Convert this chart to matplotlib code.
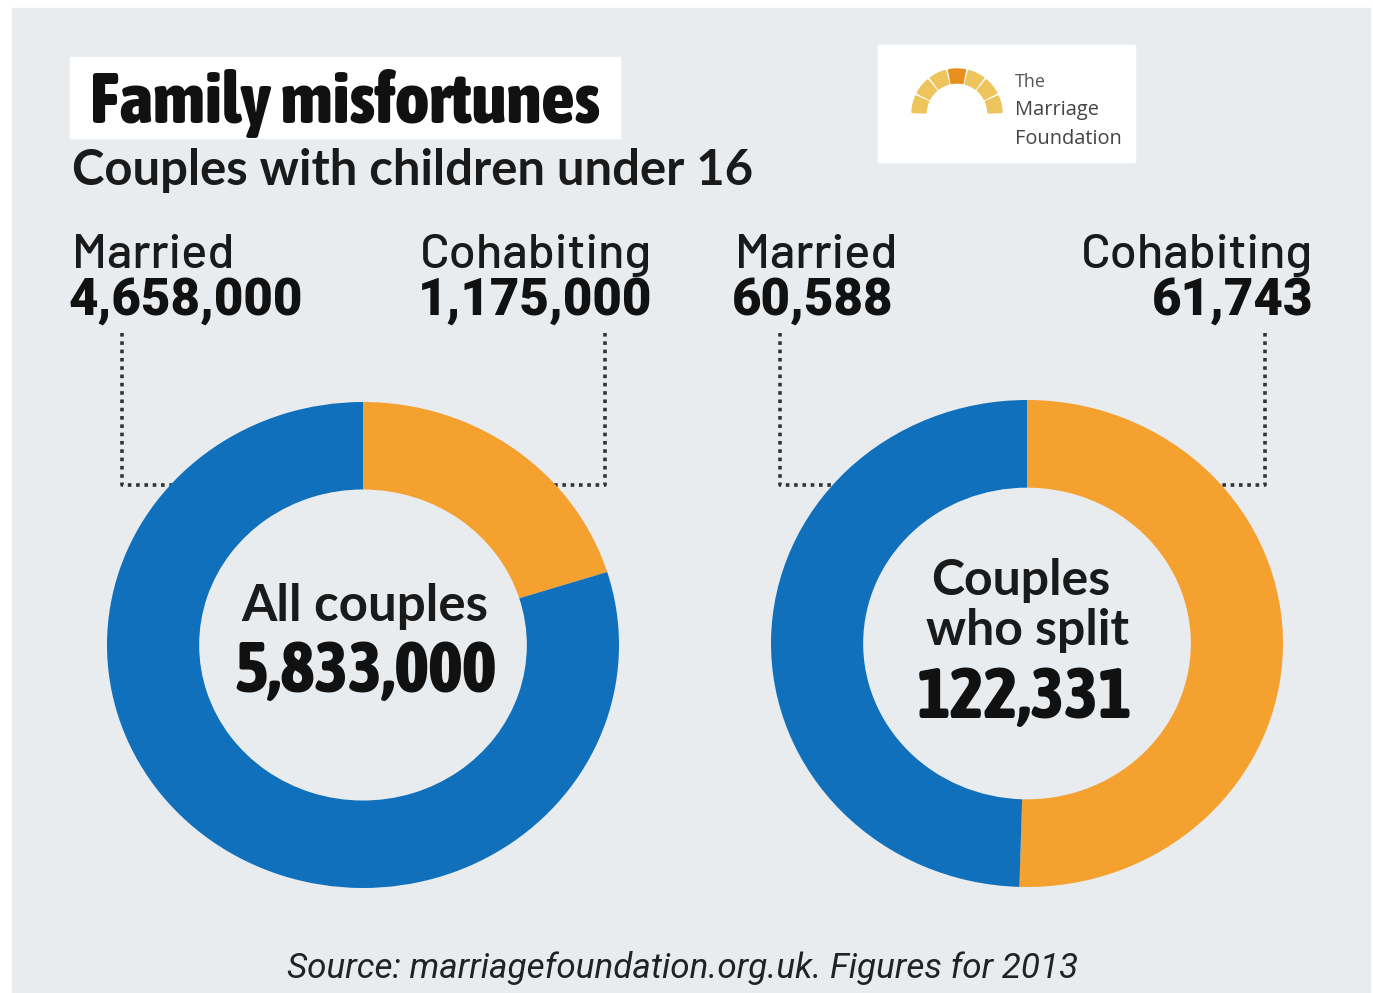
import matplotlib.pyplot as plt
from matplotlib import font_manager as fm
from matplotlib.patches import Rectangle, Wedge

# data
segments = ["Cohabiting", "Married"]
all_couples = [1175000, 4658000]
split_couples = [61743, 60588]
all_total = "5,833,000"
split_total = "122,331"
seg_colors = ["#f5a130", "#1170bb"]

W, H = 1373, 993
BG = "#e8ecef"

installed = {f.name for f in fm.fontManager.ttflist}


def fam(*names):
    return [n for n in names if n in installed] + ["DejaVu Sans"]


NARROW = fam("Asap Condensed", "Archivo Narrow")
LABEL = fam("Barlow", "Roboto")
NUM = fam("Roboto")
ROUND = fam("Lato")
ITAL = fam("Roboto")


def px(v):
    # pixel height -> points at dpi 100
    return v * 0.72


fig = plt.figure(figsize=(W / 100, H / 100), dpi=100, facecolor="white")
bg = fig.add_axes([0, 0, 1, 1])
bg.set_xlim(0, W)
bg.set_ylim(H, 0)
bg.axis("off")
bg.add_patch(Rectangle((12, 8), 1358, 990, color=BG, zorder=0))

# title block
bg.add_patch(Rectangle((70, 57), 550, 81, color="white", zorder=1))
bg.text(90, 123, "Family misfortunes", family=NARROW, weight=800,
        fontsize=px(72.5), color="#111111", zorder=2)
bg.text(72, 185, "Couples with children under 16", family=ROUND,
        weight="bold", fontsize=px(49), color="#1a1a1a")

# logo (y axis is flipped, so angles run the other way)
bg.add_patch(Rectangle((878, 45), 257, 117, color="white", zorder=1))
for k in range(7):
    a0 = 180 + k * (180 / 7) + 2
    a1 = a0 + 180 / 7 - 4
    bg.add_patch(Wedge((957, 114), 45, a0, a1, width=14,
                       color="#e8901e" if k == 3 else "#eec45c", zorder=2))
bg.text(1015, 87, "The", family=["Open Sans"], fontsize=px(18), color="#555555")
bg.text(1015, 115, "Marriage", family=["Open Sans"], fontsize=px(20), color="#444444")
bg.text(1015, 144, "Foundation", family=["Open Sans"], fontsize=px(20), color="#444444")

# donuts
boxes = [(107, 402, 512, 486), (771, 400, 512, 487)]
for (x0, y0, w, h), vals in zip(boxes, [all_couples, split_couples]):
    ax = fig.add_axes([x0 / W, 1 - (y0 + h) / H, w / W, h / H])
    ax.pie(vals, colors=seg_colors, startangle=90, counterclock=False,
           radius=1, wedgeprops=dict(width=0.36, linewidth=0))
    ax.set_aspect("auto")
    ax.set_xlim(-1, 1)
    ax.set_ylim(-1, 1)
    ax.axis("off")

# leader lines and labels
dot = dict(color="#333333", lw=2.6, linestyle=(0, (1, 1.3)), zorder=1)
centers = [363, 1027]
for cx, xl, xr in zip(centers, [122, 780], [605, 1265]):
    bg.plot([xl, xl, cx], [333, 485, 485], **dot)
    bg.plot([xr, xr, cx], [333, 485, 485], **dot)

label_sets = [
    (72, 652, "4,658,000", "1,175,000"),
    (735, 1313, "60,588", "61,743"),
]
for xl, xr, vm, vc in label_sets:
    bg.text(xl, 268, "Married", family=LABEL, weight=500, fontsize=px(49),
            color="#1a1a1a")
    bg.text(xl - 3, 315, vm, family=NUM, weight=900, fontsize=px(51),
            color="#111111")
    bg.text(xr, 268, "Cohabiting", family=LABEL, weight=500, fontsize=px(49),
            color="#1a1a1a", ha="right")
    bg.text(xr, 315, vc, family=NUM, weight=900, fontsize=px(51),
            color="#111111", ha="right")

# centre captions
bg.text(365, 621, "All couples", family=ROUND, weight="bold", fontsize=px(51),
        color="#1a1a1a", ha="center")
bg.text(365, 692, all_total, family=NARROW, weight=800,
        fontsize=px(72), color="#111111", ha="center")
bg.text(1021, 595, "Couples", family=ROUND, weight="bold", fontsize=px(50),
        color="#1a1a1a", ha="center")
bg.text(1027, 645, "who split", family=ROUND, weight="bold", fontsize=px(50),
        color="#1a1a1a", ha="center")
bg.text(1025, 718, split_total, family=NARROW, weight=800,
        fontsize=px(72), color="#111111", ha="center")

bg.text(683, 978, "Source: marriagefoundation.org.uk. Figures for 2013",
        family=ITAL, style="italic", fontsize=px(35), color="#222222",
        ha="center")

fig.savefig("out.png", dpi=100, facecolor=fig.get_facecolor())
